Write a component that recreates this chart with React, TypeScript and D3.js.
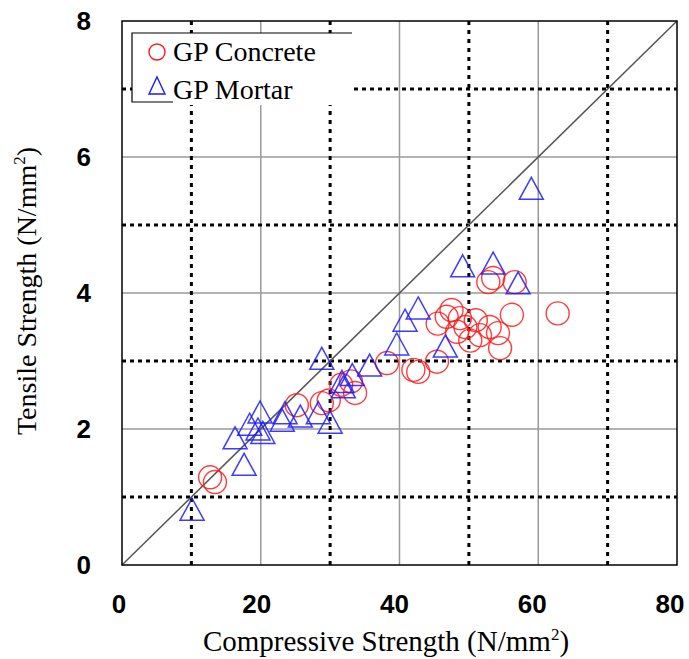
import { useEffect, useRef } from 'react';
import * as d3 from 'd3';

// GP Concrete: [compressive, tensile]
const concreteX = [12.7, 13.4, 25.2, 28.8, 29.8, 31.6, 33.0, 33.6, 38.2, 42.0, 42.7, 45.4, 45.5, 46.8, 47.5, 48.7, 48.3, 49.5, 50.2, 51.0, 51.6, 53.0, 54.2, 54.5, 52.8, 53.5, 56.2, 56.6, 62.8];
const concreteY = [1.29, 1.22, 2.35, 2.38, 2.42, 2.65, 2.7, 2.53, 2.97, 2.87, 2.84, 2.99, 3.55, 3.65, 3.75, 3.63, 3.43, 3.5, 3.3, 3.6, 3.38, 3.5, 3.41, 3.19, 4.16, 4.22, 3.68, 4.16, 3.7];

// GP Mortar
const mortarX = [10.1, 16.3, 17.6, 18.4, 19.6, 19.9, 20.3, 23.1, 23.5, 25.7, 28.3, 28.8, 30.0, 31.7, 31.9, 33.2, 35.7, 39.6, 40.8, 42.7, 46.6, 49.1, 53.5, 57.1, 59.0];
const mortarY = [0.82, 1.87, 1.48, 2.07, 2.0, 2.25, 1.95, 2.13, 2.24, 2.19, 2.24, 3.04, 2.1, 2.7, 2.62, 2.8, 2.94, 3.25, 3.6, 3.78, 3.22, 4.4, 4.44, 4.15, 5.54];

const xTicks = [0, 20, 40, 60, 80];
const yTicks = [0, 2, 4, 6, 8];
const xSolid = [20, 40, 60];
const xDotted = [10, 30, 50, 70];
const ySolid = [2, 4, 6];
const yDotted = [1, 3, 5, 7];

export default function App() {
  const svgRef = useRef<SVGSVGElement>(null);

  useEffect(() => {
    const width = 689;
    const height = 659;
    const svg = d3.select(svgRef.current);
    svg.selectAll('*').remove();
    svg.attr('width', width).attr('height', height);

    const left = 122, right = 677, top = 21, bottom = 565;
    const x = d3.scaleLinear().domain([0, 80]).range([left, right]);
    const y = d3.scaleLinear().domain([0, 8]).range([bottom, top]);

    const g = svg.append('g');

    // solid grey grid
    g.selectAll('.vs').data(xSolid).enter().append('line')
      .attr('x1', d => x(d)).attr('x2', d => x(d))
      .attr('y1', top).attr('y2', bottom)
      .attr('stroke', '#9a9a9a').attr('stroke-width', 1.5);
    g.selectAll('.hs').data(ySolid).enter().append('line')
      .attr('x1', left).attr('x2', right)
      .attr('y1', d => y(d)).attr('y2', d => y(d))
      .attr('stroke', '#9a9a9a').attr('stroke-width', 1.5);

    // dotted black grid
    g.selectAll('.vd').data(xDotted).enter().append('line')
      .attr('x1', d => x(d)).attr('x2', d => x(d))
      .attr('y1', top).attr('y2', bottom)
      .attr('stroke', '#000').attr('stroke-width', 3)
      .attr('stroke-dasharray', '4,5');
    g.selectAll('.hd').data(yDotted).enter().append('line')
      .attr('x1', left).attr('x2', right)
      .attr('y1', d => y(d)).attr('y2', d => y(d))
      .attr('stroke', '#000').attr('stroke-width', 3)
      .attr('stroke-dasharray', '4,4');

    // 1:1 line
    g.append('line')
      .attr('x1', x(0)).attr('y1', y(0))
      .attr('x2', x(80)).attr('y2', y(8))
      .attr('stroke', '#555').attr('stroke-width', 1.5);

    const concrete = concreteX.map((v, i) => [v, concreteY[i]]);
    const mortar = mortarX.map((v, i) => [v, mortarY[i]]);

    g.selectAll('.c').data(concrete).enter().append('circle')
      .attr('cx', d => x(d[0])).attr('cy', d => y(d[1]))
      .attr('r', 11.5)
      .attr('fill', 'none')
      .attr('stroke', '#ff1a1a').attr('stroke-width', 1.4).attr('stroke-opacity', 0.85);

    const tri = (cx: number, cy: number) =>
      `M${cx},${cy - 11}L${cx + 12},${cy + 11}L${cx - 12},${cy + 11}Z`;

    g.selectAll('.t').data(mortar).enter().append('path')
      .attr('d', d => tri(x(d[0]), y(d[1])))
      .attr('fill', 'none')
      .attr('stroke', '#1a1aff').attr('stroke-width', 1.5).attr('stroke-opacity', 0.85);

    // frame
    g.append('rect')
      .attr('x', left).attr('y', top)
      .attr('width', right - left).attr('height', bottom - top)
      .attr('fill', 'none').attr('stroke', '#000').attr('stroke-width', 1.5);

    // tick labels
    g.selectAll('.xt').data(xTicks).enter().append('text')
      .attr('x', d => x(d) - 3 - d * 0.05).attr('y', 613)
      .attr('text-anchor', 'middle')
      .style('font-family', '"Liberation Sans", Arial, sans-serif')
      .style('font-weight', 'bold').style('font-size', '26px')
      .text(d => d);
    g.selectAll('.yt').data(yTicks).enter().append('text')
      .attr('x', 91).attr('y', d => y(d) + 9)
      .attr('text-anchor', 'end')
      .style('font-family', '"Liberation Sans", Arial, sans-serif')
      .style('font-weight', 'bold').style('font-size', '26px')
      .text(d => d);

    // axis titles
    const serif = '"Liberation Serif", "Times New Roman", serif';
    const xt = g.append('text')
      .attr('x', 386).attr('y', 651)
      .attr('text-anchor', 'middle')
      .style('font-family', serif).style('font-size', '29px');
    xt.append('tspan').text('Compressive Strength (N/mm');
    xt.append('tspan').attr('dy', -11).style('font-size', '17px').text('2');
    xt.append('tspan').attr('dy', 11).text(')');

    const yt = g.append('text')
      .attr('transform', 'translate(36,291) rotate(-90)')
      .attr('text-anchor', 'middle')
      .style('font-family', serif).style('font-size', '28px');
    yt.append('tspan').text('Tensile Strength (N/mm');
    yt.append('tspan').attr('dy', -11).style('font-size', '17px').text('2');
    yt.append('tspan').attr('dy', 11).text(')');

    // legend
    const lg = g.append('g');
    lg.append('rect')
      .attr('x', 132).attr('y', 33).attr('width', 220).attr('height', 72)
      .attr('fill', '#fff');
    lg.append('path')
      .attr('d', 'M352,33H132V102H173')
      .attr('fill', 'none').attr('stroke', '#000').attr('stroke-width', 1.2);
    lg.append('circle')
      .attr('cx', 157).attr('cy', 52).attr('r', 8)
      .attr('fill', 'none').attr('stroke', '#ff1a1a').attr('stroke-width', 1.4);
    lg.append('path')
      .attr('d', 'M157,77L165,94L149,94Z')
      .attr('fill', 'none').attr('stroke', '#1a1aff').attr('stroke-width', 1.4);
    lg.append('text').attr('x', 173).attr('y', 61)
      .style('font-family', serif).style('font-size', '28px')
      .text('GP Concrete');
    lg.append('text').attr('x', 173).attr('y', 99)
      .style('font-family', serif).style('font-size', '28px')
      .text('GP Mortar');
  }, []);

  return (
    <div style={{ position: 'absolute', left: 0, top: 0, background: '#fff' }}>
      <svg ref={svgRef}></svg>
    </div>
  );
}
